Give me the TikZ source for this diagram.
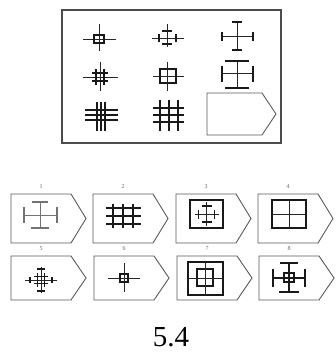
\documentclass[tikz,border=0pt]{standalone}
\usepackage{fontspec}
\setmainfont{Liberation Serif}
\begin{document}
\begin{tikzpicture}[x=1pt,y=-1pt,
  frameline/.style={draw=black!70,line width=1.1pt},
  boxline/.style={draw=black!65,line width=0.9pt},
  thinl/.style={draw=black!85,line width=0.7pt},
  thickl/.style={draw=black!90,line width=1.4pt},
  greyl/.style={draw=black!55,line width=0.8pt},
  lab/.style={font=\fontsize{6}{6}\selectfont,text=black!60,inner sep=0pt}]
\useasboundingbox (0,0) rectangle (335,358);
% top panel
\draw[frameline] (62,10) rectangle (281,143);
% answer slot
\draw[boxline] (207,93) -- (262,93) -- (276,114) -- (262,135) -- (207,135) -- cycle;
% fig 1
\begin{scope}[shift={(99,39)}]
\draw[thinl] (-16,0) -- (17,0) (0,-15) -- (0,12);
\draw[thickl] (-5,-4) rectangle (5,4);
\end{scope}
% fig 2
\begin{scope}[shift={(167,38)}]
\draw[thinl] (-15,0) -- (17,0) (0,-14) -- (0,9);
\draw[thickl] (-5,-7) -- (5,-7) (-5,6) -- (5,6) (-8,-4) -- (-8,4) (9,-4) -- (9,4);
\end{scope}
% fig 3
\begin{scope}[shift={(237,37)}]
\draw[thinl,line width=1pt] (-15,0) -- (16,0) (0,-15) -- (0,13);
\draw[thickl] (-5,-15) -- (5,-15) (-5,13) -- (5,13) (-15,-4.5) -- (-15,4.5) (16,-4.5) -- (16,4.5);
\end{scope}
% fig 4
\begin{scope}[shift={(100,77)}]
\draw[thinl] (-17,0) -- (18,0) (0,-15) -- (0,14);
\draw[thickl] (-4,-8) -- (-4,8) (4,-8) -- (4,8) (-8,-4) -- (8,-4) (-8,4) -- (8,4);
\end{scope}
% fig 5
\begin{scope}[shift={(167,76)}]
\draw[thinl] (-14,0) -- (17,0) (0,-14) -- (0,15);
\draw[thickl] (-7,-7) rectangle (9,7);
\end{scope}
% fig 6
\begin{scope}[shift={(237,74)}]
\draw[thinl,line width=1pt] (-15,0) -- (16,0) (0,-13) -- (0,14);
\draw[thickl] (-12,-13) -- (12,-13) (-12,14) -- (12,14) (-15,-8) -- (-15,8) (16,-8) -- (16,8);
\end{scope}
% fig 7
\begin{scope}[shift={(101,115)}]
\draw[thickl,line width=1.1pt] (-16,-5) -- (17,-5) (-16,0) -- (17,0) (-16,5) -- (17,5);
\draw[thickl] (-4,-13) -- (-4,16) (0,-13) -- (0,16) (4,-13) -- (4,16);
\end{scope}
% fig 8
\begin{scope}[shift={(169,115)}]
\draw[thickl] (-9,-15) -- (-9,16) (0,-15) -- (0,16) (9,-15) -- (9,16);
\draw[thickl] (-16,-7) -- (15,-7) (-16,0) -- (15,0) (-16,7) -- (15,7);
\end{scope}
% option boxes
\foreach \l/\t/\h/\n in {11/194/49/1, 93/194/49/2, 176/194/49/3, 258/194/49/4,
                         11/256/44/5, 94/256/44/6, 177/256/44/7, 259/256/44/8}{
  \draw[boxline] (\l,\t) -- (\l+60,\t) -- (\l+75,\t+\h/2) -- (\l+60,\t+\h) -- (\l,\t+\h) -- cycle;
  \node[lab] (L\n) at (\l+30,\t-7) {\n};
}
% option 1
\begin{scope}[shift={(40,215)}]
\draw[greyl] (-16,0) -- (17,0) (0,-13) -- (0,13);
\draw[greyl,line width=1.2pt] (-8,-13) -- (8,-13) (-9,13) -- (9,13) (-16,-8) -- (-16,8) (17,-8) -- (17,8);
\end{scope}
% option 2
\begin{scope}[shift={(123,216)}]
\draw[thickl] (-10,-12) -- (-10,12) (0,-12) -- (0,12) (10,-12) -- (10,12);
\draw[thickl] (-17,-8) -- (18,-8) (-17,0) -- (18,0) (-17,8) -- (18,8);
\end{scope}
% option 3
\draw[thickl] (190,200) rectangle (223,228);
\begin{scope}[shift={(206.5,214)}]
\draw[thinl] (-12,0) -- (12,0) (0,-12) -- (0,12);
\draw[thickl] (-5,-8) -- (5,-8) (-5,8) -- (5,8) (-8,-4.5) -- (-8,4.5) (8,-4.5) -- (8,4.5);
\end{scope}
% option 4
\draw[thickl] (272,200) rectangle (306,228);
\draw[thinl] (289,200) -- (289,228) (272,214) -- (306,214);
% option 5
\begin{scope}[shift={(41,280)}]
\draw[thinl] (-16,0) -- (16,0) (0,-13) -- (0,13);
\draw[thickl] (-11,-3) -- (-11,3) (11,-3) -- (11,3) (-4,-11) -- (4,-11) (-4,11) -- (4,11);
\draw[thickl,line width=1.1pt] (-3.5,-7) -- (-3.5,7) (3.5,-7) -- (3.5,7) (-7,-3.5) -- (7,-3.5) (-7,3.5) -- (7,3.5);
\end{scope}
% option 6
\begin{scope}[shift={(124,278)}]
\draw[thinl] (-16,0) -- (16,0) (0,-15) -- (0,14);
\draw[thickl] (-4,-4) rectangle (4,4);
\end{scope}
% option 7
\draw[thickl] (188,262) rectangle (223,295);
\draw[thickl] (197,269) rectangle (213,286);
\draw[thinl] (205.5,262) -- (205.5,295) (188,278.5) -- (223,278.5);
% option 8
\begin{scope}[shift={(289,278)}]
\draw[thickl] (-16,0) -- (16,0) (0,-15) -- (0,14);
\draw[thickl] (-9,-15) -- (9,-15) (-10,14) -- (10,14) (-16,-9) -- (-16,9) (16,-9) -- (16,9);
\draw[thickl] (-5,-5) rectangle (5,4);
\end{scope}
% title
\node[font=\fontsize{29}{29}\selectfont,inner sep=0pt] (title) at (171,337) {5.4};
\end{tikzpicture}
\end{document}
